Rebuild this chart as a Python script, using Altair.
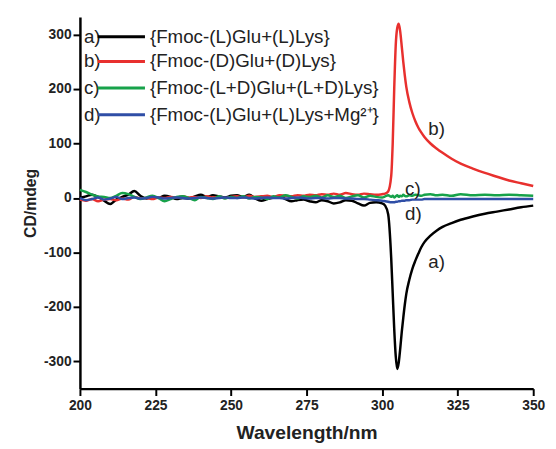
import altair as alt
import pandas as pd

# ---- data ----
wavelength = [200, 202, 204, 206, 208, 210, 212, 214, 216, 218, 220, 222, 224, 226, 228, 230,
              232, 234, 236, 238, 240, 242, 244, 246, 248, 250, 252, 254, 256, 258, 260, 262,
              264, 266, 268, 270, 272, 274, 276, 278, 280, 282, 284, 286, 288, 290, 292, 294,
              296, 298, 300,
              301, 302, 303, 303.5, 304, 304.5, 305, 305.5, 306, 306.5, 307, 307.5, 308, 309, 310,
              311, 312, 313, 314, 316, 318, 320, 323, 326, 330, 334, 338, 342, 346, 350]

cd_a = [0, 3, 6, 2, -5, -11, -3, 2, 6, 13, 4, -1, 2, 0, 4, 2,
        -2, 0, -1, 3, 6, 2, 5, 3, 1, 4, 5, 2, 6, -1, -5, -2,
        1, 3, -2, -6, -4, -3, -6, -8, -4, -6, -10, -8, -4, -5, -10, -14,
        -9, -8, -10,
        -14, -30, -110, -175, -240, -290, -314, -302, -276, -246, -220, -196, -176, -150, -130,
        -115, -102, -90, -81, -69, -60, -53, -46, -40, -34, -29, -25, -21, -17, -14]

cd_b = [-3, -5, -2, -6, -3, -2, -4, -1, -3, 2, -1, 0, -2, 1, 0, 2,
        1, 3, 1, 2, 0, 3, 1, 2, 0, 2, 3, 1, 4, 2, 3, 4,
        2, 5, 4, 3, 5, 4, 6, 5, 7, 6, 8, 6, 9, 7, 6, 8,
        7, 6, 7,
        8, 12, 40, 100, 200, 280, 312, 320, 305, 278, 250, 225, 204, 176, 156,
        141, 129, 120, 112, 100, 91, 83, 72, 63, 54, 46, 39, 32, 27, 22]

cd_c = [15, 11, 6, 3, 2, 0, 4, 9, 7, 2, -2, 1, 4, 0, -6, -2,
        2, 3, 0, -4, 2, 0, -2, 3, -1, 2, 0, 3, -1, 2, 1, -2,
        3, 1, 5, 2, -1, 3, 2, 4, 1, 5, 2, 4, 0, 3, 5, 1,
        4, 2, 1,
        3, 5, 2, 4, 1, 3, 5, 2, 4, 3, 6, 4, 3, 5, 4,
        6, 5, 4, 6, 7, 5, 6, 4, 7, 5, 6, 5, 6, 5, 4]

cd_d = [0, -4, -2, 1, -3, -1, 2, -2, 0, 1, -1, 0, 2, 1, -1, 0,
        1, 0, -1, 0, 1, 0, -1, 0, 1, 0, 0, 1, 0, -1, 0, 1,
        0, 0, -1, 0, 1, 0, -1, 0, 0, -1, 0, 0, -1, -1, -2, -2,
        -3, -4, -5,
        -6, -7, -8, -8, -8, -7, -7, -6, -6, -5, -5, -5, -4, -4, -3,
        -3, -3, -3, -2, -2, -2, -2, -2, -2, -2, -2, -2, -2, -2, -2]

series_keys = ["a)", "b)", "c)", "d)"]
series_names = ["{Fmoc-(L)Glu+(L)Lys}", "{Fmoc-(D)Glu+(D)Lys}",
                "{Fmoc-(L+D)Glu+(L+D)Lys}", "{Fmoc-(L)Glu+(L)Lys+Mg²⁺}"]
series_colors = ["#000000", "#e8302e", "#17a24a", "#2f4ea6"]
series_values = [cd_a, cd_b, cd_c, cd_d]

# in-plot curve labels (data coordinates)
ann_text = ["a)", "b)", "c)", "d)"]
ann_wl = [315.3, 315.3, 307.6, 307.6]
ann_cd = [-117, 126, 16, -29]

FONT = "Liberation Sans"

rows = []
for key, vals in zip(series_keys, series_values):
    for w, v in zip(wavelength, vals):
        rows.append({"wl": w, "cd": v, "key": key})
df = pd.DataFrame(rows)

xscale = alt.Scale(domain=[200, 350], nice=False, zero=False)
yscale = alt.Scale(domain=[-350, 332], nice=False, zero=False)

lines = alt.Chart(df).mark_line(strokeWidth=2.5, interpolate="monotone").encode(
    x=alt.X("wl:Q", scale=xscale, title="Wavelength/nm",
            axis=alt.Axis(values=[200, 225, 250, 275, 300, 325, 350], labelExpr="toString(datum.value)",
                          labelFlush=False)),
    y=alt.Y("cd:Q", scale=yscale, title="CD/mdeg",
            axis=alt.Axis(values=[-300, -200, -100, 0, 100, 200, 300], labelExpr="toString(datum.value)")),
    color=alt.Color("key:N", scale=alt.Scale(domain=series_keys, range=series_colors), legend=None),
    order=alt.Order("wl:Q"),
)

ann_df = pd.DataFrame({"t": ann_text, "wl": ann_wl, "cd": ann_cd})
ann = alt.Chart(ann_df).mark_text(font=FONT, fontSize=19, align="left", baseline="middle", color="#222").encode(
    x=alt.X("wl:Q", scale=xscale), y=alt.Y("cd:Q", scale=yscale), text="t:N")

layers = [lines, ann]
row_y = [20, 45, 72, 99]
for yy, key, name, col in zip(row_y, series_keys, series_names, series_colors):
    d = pd.DataFrame({"k": [key], "n": [name]})
    layers.append(alt.Chart(d).mark_text(font=FONT, fontSize=19, align="left", baseline="middle", color="#222").encode(
        x=alt.value(4), y=alt.value(yy), text="k:N"))
    layers.append(alt.Chart(d).mark_rule(strokeWidth=3, color=col).encode(
        x=alt.value(18), x2=alt.value(66), y=alt.value(yy)))
    layers.append(alt.Chart(d).mark_text(font=FONT, fontSize=19, align="left", baseline="middle", color="#222").encode(
        x=alt.value(71), y=alt.value(yy), text="n:N"))

chart = alt.layer(*layers).properties(
    width=460, height=377,
    autosize=alt.AutoSizeParams(type="none"),
    padding={"left": 73, "top": 6, "right": 15, "bottom": 58},
).configure_view(stroke=None).configure_axis(
    grid=False,
    domainColor="#000", domainWidth=2.5,
    tickColor="#000", tickWidth=2, tickSize=7,
    labelFont=FONT, labelFontWeight="bold", labelFontSize=14, labelColor="#222",
    titleFont=FONT, titleFontWeight="bold", titleColor="#222",
).configure_axisY(titleFontSize=16, titlePadding=5, labelPadding=2).configure_axisX(
    titleFontSize=19.5, titlePadding=12, labelPadding=3)

chart.save("out.html", embed_options={"renderer": "svg", "actions": False})
